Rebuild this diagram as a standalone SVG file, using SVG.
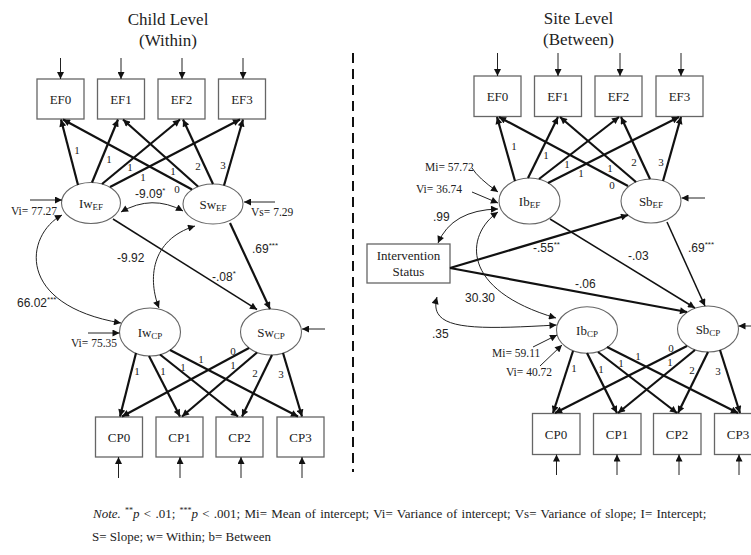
<svg xmlns="http://www.w3.org/2000/svg" width="751" height="555" viewBox="0 0 751 555">
<defs>
<marker id="ah" viewBox="0 0 10 10" refX="10" refY="5" markerWidth="8" markerHeight="7" markerUnits="userSpaceOnUse" orient="auto-start-reverse"><path d="M0,0 L10,5 L0,10 z" fill="#111"/></marker>
<style>
.box{fill:#fff;stroke:#666;stroke-width:1.3}
.ell{fill:#fff;stroke:#666;stroke-width:1.1}
.s{font-family:"Liberation Serif","Times New Roman",serif;fill:#222}
.a{font-family:"Liberation Sans",Arial,sans-serif;fill:#222;font-size:12px}
.nl{font-size:13px;text-anchor:middle}
.ld{font-size:11px;text-anchor:middle}
.ttl{font-size:17px;text-anchor:middle}
.vl{font-size:11.5px}
.thick{stroke:#111;stroke-width:2.2;fill:none;marker-end:url(#ah)}
.med{stroke:#111;stroke-width:1.5;fill:none;marker-end:url(#ah)}
.thin{stroke:#222;stroke-width:1;fill:none;marker-end:url(#ah)}
.cov{stroke:#222;stroke-width:1;fill:none;marker-start:url(#ah);marker-end:url(#ah)}
.sup{font-size:8px}
</style>
</defs>
<rect width="751" height="555" fill="#fff"/>

<g id="titles">
<text class="s ttl" x="168" y="25">Child Level</text>
<text class="s ttl" x="168" y="46">(Within)</text>
<text class="s ttl" x="578.5" y="24">Site Level</text>
<text class="s ttl" x="578.5" y="45">(Between)</text>
</g>

<line id="divider" x1="353" y1="53" x2="353" y2="472" stroke="#111" stroke-width="2" stroke-dasharray="10,6"/>

<!-- Left nodes -->
<g id="w-EF0"><rect class="box" x="37" y="79" width="47" height="40"/><text class="s nl" x="60.5" y="104">EF0</text></g>
<g id="w-EF1"><rect class="box" x="97.5" y="79" width="47" height="40"/><text class="s nl" x="121" y="104">EF1</text></g>
<g id="w-EF2"><rect class="box" x="158" y="79" width="47" height="40"/><text class="s nl" x="181.5" y="104">EF2</text></g>
<g id="w-EF3"><rect class="box" x="218.5" y="79" width="47" height="40"/><text class="s nl" x="242" y="104">EF3</text></g>
<g id="w-IwEF"><ellipse class="ell" cx="91" cy="203" rx="29.5" ry="20.5"/><text class="s nl" x="91" y="208">Iw<tspan font-size="9" dy="2">EF</tspan></text></g>
<g id="w-SwEF"><ellipse class="ell" cx="213" cy="204" rx="30" ry="20"/><text class="s nl" x="213" y="209">Sw<tspan font-size="9" dy="2">EF</tspan></text></g>
<g id="w-IwCP"><ellipse class="ell" cx="150" cy="332" rx="30.5" ry="24"/><text class="s nl" x="150" y="337">Iw<tspan font-size="9" dy="2">CP</tspan></text></g>
<g id="w-SwCP"><ellipse class="ell" cx="271" cy="332" rx="30.5" ry="23"/><text class="s nl" x="271" y="337">Sw<tspan font-size="9" dy="2">CP</tspan></text></g>
<g id="w-CP0"><rect class="box" x="95.5" y="417" width="47" height="40"/><text class="s nl" x="119" y="442">CP0</text></g>
<g id="w-CP1"><rect class="box" x="156" y="417" width="47" height="40"/><text class="s nl" x="179.5" y="442">CP1</text></g>
<g id="w-CP2"><rect class="box" x="216" y="417" width="47" height="40"/><text class="s nl" x="239.5" y="442">CP2</text></g>
<g id="w-CP3"><rect class="box" x="277" y="417" width="47" height="40"/><text class="s nl" x="300.5" y="442">CP3</text></g>

<!-- Right nodes -->
<g id="b-EF0"><rect class="box" x="474" y="76" width="47" height="40.5"/><text class="s nl" x="497.5" y="101">EF0</text></g>
<g id="b-EF1"><rect class="box" x="534.5" y="76" width="47" height="40.5"/><text class="s nl" x="558" y="101">EF1</text></g>
<g id="b-EF2"><rect class="box" x="595" y="76" width="47" height="40.5"/><text class="s nl" x="618.5" y="101">EF2</text></g>
<g id="b-EF3"><rect class="box" x="656" y="76" width="47" height="40.5"/><text class="s nl" x="679.5" y="101">EF3</text></g>
<g id="b-IbEF"><ellipse class="ell" cx="529.5" cy="201" rx="30.5" ry="23"/><text class="s nl" x="529.5" y="206">Ib<tspan font-size="9" dy="2">EF</tspan></text></g>
<g id="b-SbEF"><ellipse class="ell" cx="651" cy="201" rx="30" ry="22"/><text class="s nl" x="651" y="206">Sb<tspan font-size="9" dy="2">EF</tspan></text></g>
<g id="b-Intervention"><rect class="box" x="367" y="244" width="83" height="39"/><text class="s nl" x="408.5" y="260">Intervention</text><text class="s nl" x="408.5" y="276">Status</text></g>
<g id="b-IbCP"><ellipse class="ell" cx="587" cy="330" rx="30.5" ry="23.3"/><text class="s nl" x="587" y="335">Ib<tspan font-size="9" dy="2">CP</tspan></text></g>
<g id="b-SbCP"><ellipse class="ell" cx="708" cy="329" rx="30.5" ry="23"/><text class="s nl" x="708" y="334">Sb<tspan font-size="9" dy="2">CP</tspan></text></g>
<g id="b-CP0"><rect class="box" x="532.5" y="413.5" width="47.5" height="41"/><text class="s nl" x="556" y="439">CP0</text></g>
<g id="b-CP1"><rect class="box" x="593.5" y="413.5" width="47.5" height="41"/><text class="s nl" x="617" y="439">CP1</text></g>
<g id="b-CP2"><rect class="box" x="653.5" y="413.5" width="47.5" height="41"/><text class="s nl" x="677" y="439">CP2</text></g>
<g id="b-CP3"><rect class="box" x="714.5" y="413.5" width="47.5" height="41"/><text class="s nl" x="738" y="439">CP3</text></g>

<g id="connectors">
<!-- left residual arrows -->
<line class="thin" x1="60.5" y1="58" x2="60.5" y2="79"/>
<line class="thin" x1="121" y1="58" x2="121" y2="79"/>
<line class="thin" x1="182" y1="58" x2="182" y2="79"/>
<line class="thin" x1="243" y1="58" x2="243" y2="79"/>
<line class="thin" x1="118.5" y1="478" x2="118.5" y2="457"/>
<line class="thin" x1="180" y1="478" x2="180" y2="457"/>
<line class="thin" x1="241" y1="478" x2="241" y2="457"/>
<line class="thin" x1="302" y1="478" x2="302" y2="457"/>
<line class="thin" x1="30" y1="200" x2="62" y2="200"/>
<line class="thin" x1="275" y1="202" x2="244" y2="202"/>
<line class="thin" x1="88" y1="333" x2="119.5" y2="333"/>
<line class="thin" x1="325" y1="329" x2="302" y2="329"/>
<!-- left EF loadings -->
<line class="thick" x1="78" y1="185" x2="61" y2="119.5"/>
<line class="thick" x1="92" y1="182.5" x2="118" y2="119.5"/>
<line class="thick" x1="102" y1="184" x2="180" y2="119.5"/>
<line class="thick" x1="110" y1="187" x2="240" y2="119.5"/>
<line class="thick" x1="192" y1="189.5" x2="63" y2="119.5"/>
<line class="thick" x1="198" y1="186.5" x2="123" y2="119.5"/>
<line class="thick" x1="213" y1="184" x2="183" y2="119.5"/>
<line class="thick" x1="224" y1="185.5" x2="243" y2="119.5"/>
<!-- left CP loadings -->
<line class="thick" x1="136" y1="353" x2="120" y2="416.5"/>
<line class="thick" x1="149" y1="356" x2="180" y2="416.5"/>
<line class="thick" x1="160" y1="354.5" x2="238" y2="416.5"/>
<line class="thick" x1="170" y1="350" x2="298" y2="416.5"/>
<line class="thick" x1="249" y1="348" x2="122" y2="416.5"/>
<line class="thick" x1="257" y1="352.5" x2="182" y2="416.5"/>
<line class="thick" x1="272" y1="355" x2="242" y2="416.5"/>
<line class="thick" x1="283" y1="353" x2="302" y2="416.5"/>
<!-- left structural -->
<line class="med" x1="113" y1="219" x2="257" y2="309.5"/>
<line class="thick" x1="230" y1="223" x2="270" y2="309"/>
<path class="cov" d="M121,212 Q152,194 183,211"/>
<path class="cov" d="M195,226 C150,240 148,280 159,308"/>
<path class="cov" d="M62,215 C25,235 15,305 121,323"/>

<!-- right residual arrows -->
<line class="thin" x1="497.5" y1="53" x2="497.5" y2="76"/>
<line class="thin" x1="558" y1="53" x2="558" y2="76"/>
<line class="thin" x1="620" y1="53" x2="620" y2="76"/>
<line class="thin" x1="681" y1="53" x2="681" y2="76"/>
<line class="thin" x1="556.5" y1="475" x2="556.5" y2="454.5"/>
<line class="thin" x1="617" y1="475" x2="617" y2="454.5"/>
<line class="thin" x1="679" y1="475" x2="679" y2="454.5"/>
<line class="thin" x1="739" y1="475" x2="739" y2="454.5"/>
<line class="thin" x1="705" y1="198" x2="681.5" y2="198"/>
<line class="thin" x1="751" y1="326" x2="738.5" y2="326"/>
<path class="thin" d="M472,168 Q478,178 498,192"/>
<line class="thin" x1="472" y1="192" x2="498" y2="203"/>
<line class="thin" x1="533" y1="347" x2="557" y2="335"/>
<line class="thin" x1="540" y1="366" x2="562" y2="345"/>
<!-- right EF loadings -->
<line class="thick" x1="515" y1="181" x2="497" y2="117"/>
<line class="thick" x1="528" y1="178" x2="558" y2="117"/>
<line class="thick" x1="539" y1="179" x2="619" y2="117"/>
<line class="thick" x1="548" y1="183" x2="679" y2="117"/>
<line class="thick" x1="628" y1="186" x2="499" y2="117"/>
<line class="thick" x1="636" y1="182" x2="560" y2="117"/>
<line class="thick" x1="650" y1="179" x2="621" y2="117"/>
<line class="thick" x1="663" y1="181" x2="681" y2="117"/>
<!-- right CP loadings -->
<line class="thick" x1="573" y1="351" x2="553" y2="413"/>
<line class="thick" x1="587" y1="353" x2="617" y2="413"/>
<line class="thick" x1="598" y1="352" x2="677" y2="413"/>
<line class="thick" x1="607" y1="347" x2="738" y2="413"/>
<line class="thick" x1="687" y1="346" x2="555" y2="413"/>
<line class="thick" x1="695" y1="350" x2="618" y2="413"/>
<line class="thick" x1="708" y1="352" x2="678" y2="413"/>
<line class="thick" x1="720" y1="350" x2="740" y2="413"/>
<!-- right structural -->
<line class="thick" x1="450" y1="268" x2="628" y2="215"/>
<line class="thick" x1="450" y1="268" x2="687" y2="312"/>
<line class="med" x1="550" y1="219" x2="695" y2="308"/>
<line class="med" x1="667" y1="222" x2="705" y2="306"/>
<path class="cov" d="M438,243 Q452,210 498,209"/>
<path class="cov" d="M498,212 C465,235 460,290 556,318"/>
<path class="cov" d="M437,297 C428,330 470,330 556.5,325"/>

<!-- loading labels -->
<g class="s ld">
<text x="77" y="154">1</text><text x="109" y="163">1</text><text x="130" y="171">1</text><text x="143" y="181">1</text>
<text x="177" y="193">0</text><text x="173" y="175">1</text><text x="198" y="170">2</text><text x="223" y="169">3</text>
<text x="137" y="375">1</text><text x="163" y="375">1</text><text x="183" y="371">1</text><text x="201" y="363">1</text>
<text x="233" y="355">0</text><text x="233" y="369">1</text><text x="255" y="377">2</text><text x="281" y="378">3</text>
<text x="514" y="150">1</text><text x="546" y="159">1</text><text x="567" y="168">1</text><text x="581" y="177">1</text>
<text x="610" y="172">1</text><text x="634" y="166">2</text><text x="661" y="166">3</text><text x="612" y="189">0</text>
<text x="574" y="372">1</text><text x="601" y="373">1</text><text x="621" y="367">1</text><text x="638" y="360">1</text>
<text x="671" y="352">0</text><text x="670" y="366">1</text><text x="692" y="374">2</text><text x="718" y="375">3</text>
</g>

<!-- coefficient labels -->
<text class="a" x="135" y="198">-9.09<tspan class="sup" dy="-5">*</tspan></text>
<text class="a" x="117" y="262">-9.92</text>
<text class="a" x="17" y="307">66.02<tspan class="sup" dy="-5">***</tspan></text>
<text class="a" x="212" y="281">-.08<tspan class="sup" dy="-5">*</tspan></text>
<text class="a" x="252" y="253">.69<tspan class="sup" dy="-5">***</tspan></text>
<text class="a" x="533" y="252">-.55<tspan class="sup" dy="-5">**</tspan></text>
<text class="a" x="575" y="288">-.06</text>
<text class="a" x="628" y="260">-.03</text>
<text class="a" x="688" y="252">.69<tspan class="sup" dy="-5">***</tspan></text>
<text class="a" x="433" y="221">.99</text>
<text class="a" x="465" y="302">30.30</text>
<text class="a" x="432" y="338">.35</text>
<!-- variance / mean labels -->
<text class="s vl" x="11" y="215">Vi= 77.27</text>
<text class="s vl" x="251" y="216">Vs= 7.29</text>
<text class="s vl" x="71" y="347">Vi= 75.35</text>
<text class="s vl" x="425" y="171">Mi= 57.72</text>
<text class="s vl" x="416" y="193">Vi= 36.74</text>
<text class="s vl" x="492" y="357">Mi= 59.11</text>
<text class="s vl" x="506" y="376">Vi= 40.72</text>
</g>

<g id="note" class="s" font-size="13">
<text x="93" y="518" word-spacing="1"><tspan font-style="italic">Note.</tspan> <tspan class="sup" dy="-5">**</tspan><tspan font-style="italic" dy="5">p</tspan> &lt; .01; <tspan class="sup" dy="-5">***</tspan><tspan font-style="italic" dy="5">p</tspan> &lt; .001; Mi= Mean of intercept; Vi= Variance of intercept; Vs= Variance of slope; I= Intercept;</text>
<text x="92" y="541">S= Slope; w= Within; b= Between</text>
</g>
</svg>
